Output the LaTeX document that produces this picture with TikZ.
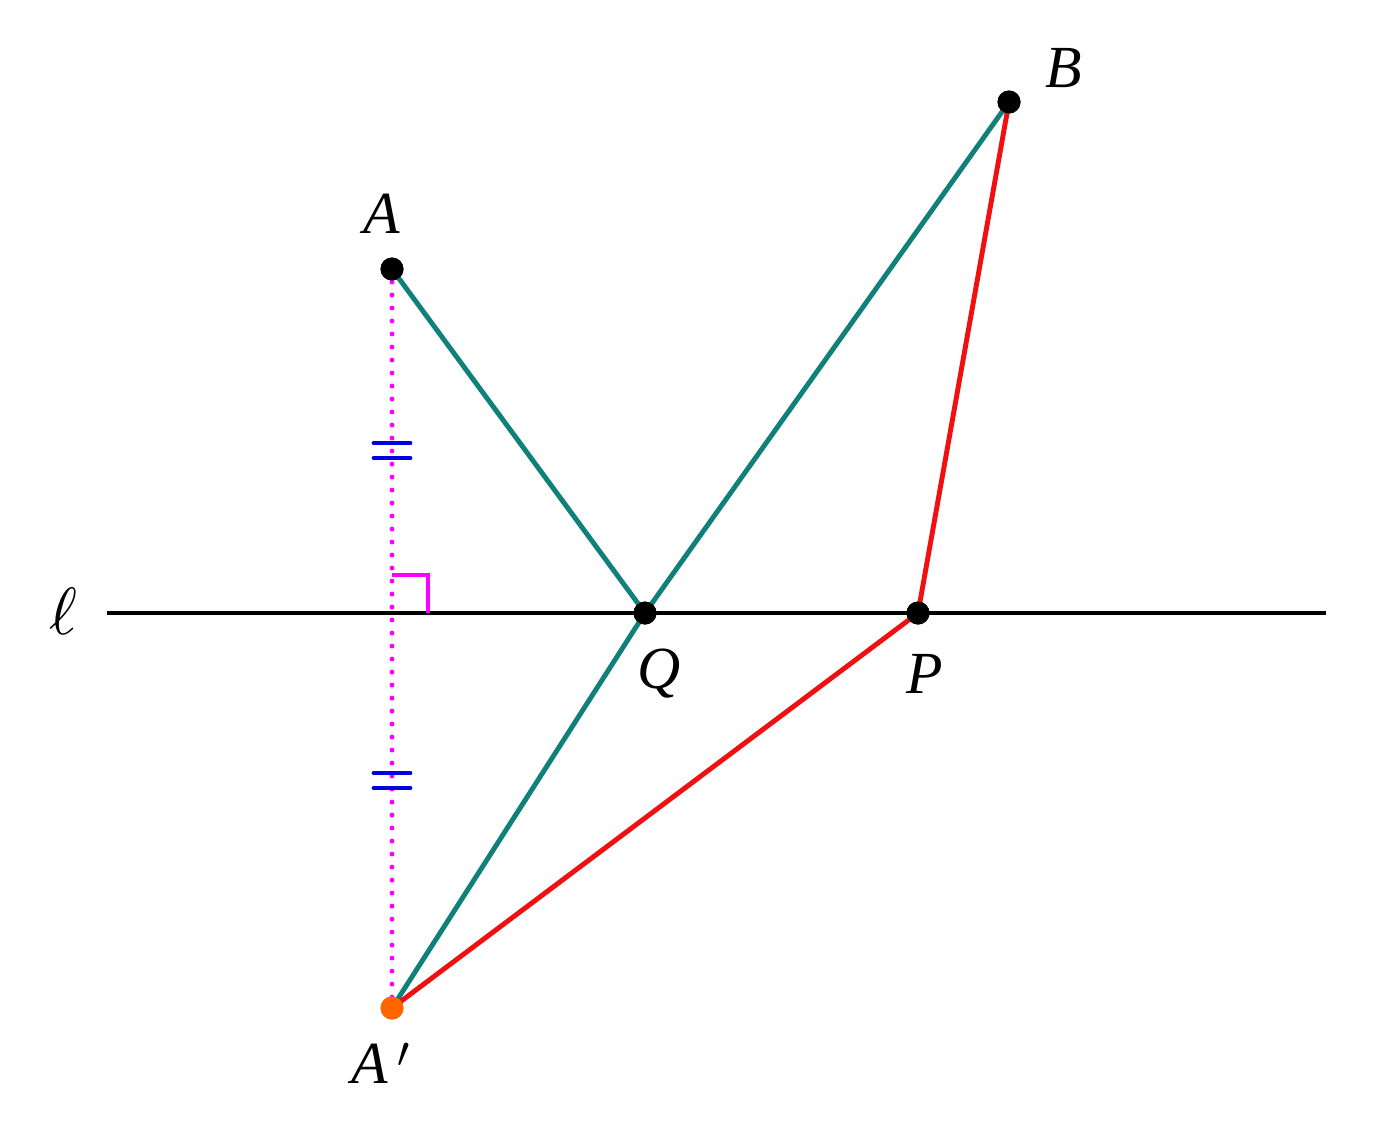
\documentclass[tikz,border=0pt]{standalone}
\usepackage{fontspec}
\setmainfont{Liberation Serif}
\begin{document}
\begin{tikzpicture}[x=0.02cm,y=-0.02cm,
  pt/.style={circle,fill=black,inner sep=0pt,minimum size=0.46cm},
  ptorange/.style={circle,fill={rgb,255:red,255;green,102;blue,0},inner sep=0pt,minimum size=0.46cm},
  lbl/.style={font=\fontsize{34}{38}\selectfont\itshape},
  tealline/.style={draw={rgb,255:red,16;green,128;blue,122},line width=2.8pt},
  redline/.style={draw={rgb,255:red,240;green,16;blue,16},line width=2.8pt},
  tick/.style={draw={rgb,255:red,0;green,0;blue,220},line width=2.8pt,line cap=round},
  magline/.style={draw={rgb,255:red,255;green,0;blue,255}}]
\useasboundingbox (0,0) rectangle (1375,1144);
\fill[white] (0,0) rectangle (1375,1144);
\coordinate (L1) at (107,613);
\coordinate (L2) at (1326,613);
\coordinate (R1) at (392,575);
\coordinate (R2) at (428,575);
\coordinate (R3) at (428,613);
\node[pt] (A) at (392,269) {};
\node[pt] (B) at (1009,102) {};
\node[pt] (Q) at (645,613) {};
\node[pt] (P) at (918,613) {};
\node[ptorange] (Ap) at (392,1008) {};
% line l
\draw[line width=2.8pt] (L1) -- (L2);
% dotted perpendicular
\draw[magline,line width=2.8pt,line cap=round,dash pattern=on 0pt off 7.4pt] (A.center) -- (Ap.center);
\draw[magline,line width=2pt] (R1) -- (R2) -- (R3);
% ticks
\coordinate (T1a) at (374,443); \coordinate (T1b) at (410,443);
\coordinate (T2a) at (374,458); \coordinate (T2b) at (410,458);
\coordinate (T3a) at (374,773); \coordinate (T3b) at (410,773);
\coordinate (T4a) at (374,788); \coordinate (T4b) at (410,788);
\draw[tick] (T1a) -- (T1b);
\draw[tick] (T2a) -- (T2b);
\draw[tick] (T3a) -- (T3b);
\draw[tick] (T4a) -- (T4b);
% segments
\draw[tealline] (A.center) -- (Q.center);
\draw[tealline] (B.center) -- (Q.center) -- (Ap.center);
\draw[redline] (B.center) -- (P.center);
\draw[redline] (P.center) -- (Ap.center);
% redraw points on top
\node[pt] at (A) {};
\node[pt] at (B) {};
\node[pt] at (Q) {};
\node[pt] at (P) {};
\node[ptorange] at (Ap) {};
% labels
\node[lbl] (lA) at (382,214) {A};
\node[lbl] (lB) at (1064,68) {B};
\node[lbl] (lQ) at (659,674) {Q};
\node[lbl] (lP) at (925,674) {P};
\node[lbl] (lAp) at (381,1063) {A\,$'$};
\node (ll) at (63,611) {\scalebox{3.8}{$\ell$}};
\end{tikzpicture}
\end{document}
